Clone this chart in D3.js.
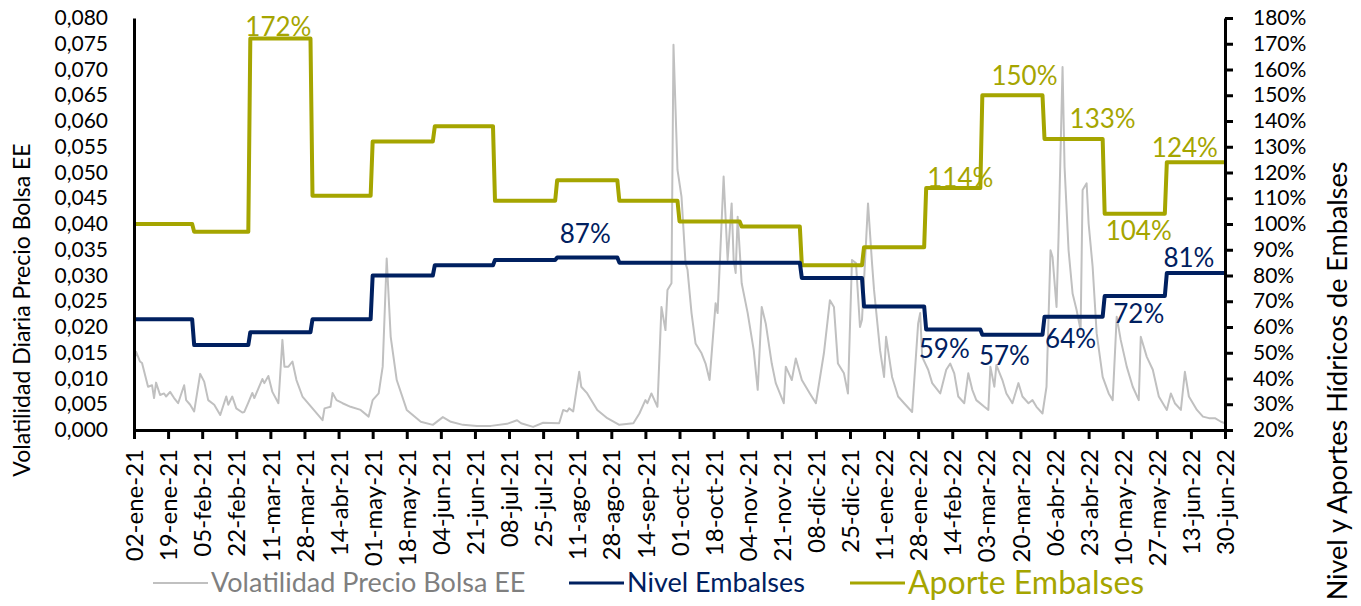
<!DOCTYPE html>
<html><head><meta charset="utf-8">
<script src="https://cdn.jsdelivr.net/npm/d3@7"></script>
<style>
body{margin:0;background:#fff}
svg{display:block}
text{font-family:Lato,"Open Sans",sans-serif}
</style>
</head><body>
<svg id="chart" width="1361" height="606"></svg>
<script>
// ---------------- DATA ----------------
const startDate = "2021-01-02";
const endDate = "2022-06-30";
const months = ["2021-01","2021-02","2021-03","2021-04","2021-05","2021-06","2021-07","2021-08","2021-09",
  "2021-10","2021-11","2021-12","2022-01","2022-02","2022-03","2022-04","2022-05","2022-06"];
// monthly reservoir level (%)
const nivelEmbalses = [63,53,58,63,80,84,86,87,85,85,85,79,68,59,57,64,72,81];
// monthly hydro inflows (% of historical mean)
const aporteEmbalses = [100,97,172,111,132,138,109,117,109,101,99,84,91,114,150,133,104,124];

// labelled points: month index + date at which the label is anchored
const nivelLabelMonth = [7,13,14,15,16,17];
const nivelLabelDate = ["2021-08-15","2022-02-10","2022-03-12","2022-04-14","2022-05-18","2022-06-12"];
const aporteLabelMonth = [2,13,14,15,16,17];
const aporteLabelDate = ["2021-03-15","2022-02-18","2022-03-22","2022-04-30","2022-05-18","2022-06-10"];

// daily volatility of spot price, read at the visible turning points (days since 02-ene-21)
const volDay = [0,1,3,4,7,9,10,11,13,15,16,18,20,22,25,26,28,30,33,35,37,40,43,46,47,49,51,54,55,57,59,60,64,65,67,69,72,74,75,77,79,81,84,89,94,95,98,99,101,104,108,113,117,119,122,124,126,128,131,136,143,149,154,158,164,171,178,186,191,193,199,204,212,214,216,217,219,222,223,226,231,236,242,249,252,255,256,258,261,263,265,266,268,269,271,273,275,276,278,280,283,285,287,290,291,294,296,298,299,300,301,303,306,309,311,313,315,318,320,324,325,328,330,333,337,340,344,347,349,351,354,356,358,360,362,363,366,368,369,372,374,375,378,381,384,388,391,392,393,396,398,402,405,407,409,411,414,416,418,420,424,426,427,429,430,433,435,438,441,443,446,448,450,453,455,457,458,460,461,463,464,466,468,470,472,473,475,476,478,480,483,486,488,490,492,495,498,501,502,505,508,511,515,517,519,522,524,526,530,533,536,539,542,544];
const volValue = [.0130,.0152,.0133,.0130,.0084,.0087,.0062,.0092,.0068,.0071,.0065,.0074,.0062,.0052,.0087,.0058,.0049,.0036,.0109,.0094,.0058,.0049,.0029,.0065,.0049,.0065,.0042,.0034,.0035,.0053,.0072,.0062,.0099,.0091,.0105,.0074,.0052,.0175,.0123,.0123,.0133,.0097,.0065,.0042,.0019,.0042,.0045,.0072,.0058,.0052,.0045,.0039,.0026,.0058,.0071,.0123,.0333,.0181,.0097,.0039,.0016,.0010,.0025,.0016,.0010,.0008,.0008,.0012,.0019,.0013,.0006,.0014,.0013,.0039,.0036,.0042,.0036,.0113,.0084,.0071,.0039,.0023,.0010,.0013,.0032,.0058,.0052,.0071,.0045,.0239,.0194,.0272,.0285,.0748,.0505,.0453,.0324,.0311,.0227,.0168,.0149,.0129,.0097,.0246,.0227,.0492,.0330,.0440,.0330,.0305,.0414,.0285,.0227,.0155,.0078,.0239,.0207,.0129,.0091,.0052,.0123,.0097,.0139,.0097,.0071,.0052,.0149,.0252,.0239,.0129,.0110,.0071,.0330,.0324,.0200,.0214,.0440,.0324,.0272,.0155,.0103,.0181,.0103,.0065,.0052,.0035,.0207,.0227,.0142,.0117,.0091,.0071,.0117,.0129,.0110,.0065,.0052,.0110,.0078,.0058,.0045,.0039,.0123,.0084,.0126,.0097,.0071,.0052,.0091,.0065,.0052,.0058,.0045,.0032,.0084,.0349,.0336,.0239,.0375,.0705,.0511,.0349,.0265,.0233,.0194,.0466,.0479,.0401,.0317,.0188,.0103,.0071,.0058,.0220,.0175,.0123,.0084,.0058,.0181,.0142,.0117,.0065,.0039,.0071,.0052,.0039,.0113,.0065,.0039,.0026,.0023,.0023,.0016,.0013];

// axis ticks
const xTickDates = ["2021-01-02","2021-01-19","2021-02-05","2021-02-22","2021-03-11","2021-03-28","2021-04-14",
  "2021-05-01","2021-05-18","2021-06-04","2021-06-21","2021-07-08","2021-07-25","2021-08-11","2021-08-28",
  "2021-09-14","2021-10-01","2021-10-18","2021-11-04","2021-11-21","2021-12-08","2021-12-25","2022-01-11",
  "2022-01-28","2022-02-14","2022-03-03","2022-03-20","2022-04-06","2022-04-23","2022-05-10","2022-05-27",
  "2022-06-13","2022-06-30"];
const monthAbbr = ["ene","feb","mar","abr","may","jun","jul","ago","sep","oct","nov","dic"];
const leftTicks = [0,0.005,0.010,0.015,0.020,0.025,0.030,0.035,0.040,0.045,0.050,0.055,0.060,0.065,0.070,0.075,0.080];
const rightTicks = [20,30,40,50,60,70,80,90,100,110,120,130,140,150,160,170,180];

// ---------------- CHART ----------------
const C_VOL = "#c0c0c0", C_NIV = "#002060", C_APO = "#a5a500";
const parse = d3.utcParse("%Y-%m-%d");
const parseM = d3.utcParse("%Y-%m");
const svg = d3.select("#chart");
const L = 134, R = 1225, T = 18, B = 430;

const x = d3.scaleUtc().domain([parse(startDate), parse(endDate)]).range([L, R]);
const yL = d3.scaleLinear().domain([0, 0.08]).range([B, T]);
const yR = d3.scaleLinear().domain([20, 180]).range([B, T]);

function stepPoints(vals) {
  const pts = [];
  const s = parse(startDate), e = parse(endDate);
  vals.forEach((v, i) => {
    let a = parseM(months[i]);
    if (a < s) a = s;
    let b = i < vals.length - 1 ? d3.utcDay.offset(parseM(months[i + 1]), -1) : e;
    pts.push([a, v], [b, v]);
  });
  return pts;
}

// gray volatility line
const volData = volDay.map((d, i) => [d3.utcDay.offset(parse(startDate), d), volValue[i]]);
svg.append("path").datum(volData)
  .attr("fill", "none").attr("stroke", C_VOL).attr("stroke-width", 2).attr("stroke-linejoin", "round")
  .attr("d", d3.line().x(d => x(d[0])).y(d => yL(d[1])));

const stepLine = d3.line().x(d => x(d[0])).y(d => yR(d[1]));
svg.append("path").datum(stepPoints(aporteEmbalses))
  .attr("fill", "none").attr("stroke", C_APO).attr("stroke-width", 4).attr("stroke-linejoin", "round")
  .attr("d", stepLine);
svg.append("path").datum(stepPoints(nivelEmbalses))
  .attr("fill", "none").attr("stroke", C_NIV).attr("stroke-width", 4).attr("stroke-linejoin", "round")
  .attr("d", stepLine);

// data labels
const aporteOffsets = [-3, -1, -10, -11, 26, -5];
aporteLabelMonth.forEach((m, i) => {
  svg.append("text").attr("x", x(parse(aporteLabelDate[i]))).attr("y", yR(aporteEmbalses[m]) + aporteOffsets[i])
    .attr("text-anchor", "middle").attr("fill", C_APO).attr("font-size", 26)
    .text(aporteEmbalses[m] + "%");
});
const nivelOffsets = [-14, 28, 30, 31, 27, -6];
nivelLabelMonth.forEach((m, i) => {
  svg.append("text").attr("x", x(parse(nivelLabelDate[i]))).attr("y", yR(nivelEmbalses[m]) + nivelOffsets[i])
    .attr("text-anchor", "middle").attr("fill", C_NIV).attr("font-size", 26)
    .text(nivelEmbalses[m] + "%");
});

// axes
const fmtES = dt => d3.utcFormat("%d")(dt) + "-" + monthAbbr[dt.getUTCMonth()] + "-" + d3.utcFormat("%y")(dt);
const gx = svg.append("g").attr("transform", `translate(0,${B})`)
  .call(d3.axisBottom(x).tickValues(xTickDates.map(parse)).tickSize(9).tickSizeOuter(0).tickFormat(fmtES));
gx.selectAll(".tick text").attr("transform", "rotate(-90)").attr("text-anchor", "end")
  .attr("x", -19).attr("y", 0).attr("dy", "0.36em").attr("font-size", 24).attr("fill", "#000");

const gl = svg.append("g").attr("transform", `translate(${L},0)`)
  .call(d3.axisLeft(yL).tickValues(leftTicks).tickSize(0).tickPadding(26)
    .tickFormat(d => d3.format(".3f")(d).replace(".", ",")));
gl.selectAll(".tick text").attr("font-size", 21).attr("fill", "#000");

const gr = svg.append("g").attr("transform", `translate(${R},0)`)
  .call(d3.axisRight(yR).tickValues(rightTicks).tickSize(8).tickSizeOuter(0).tickPadding(20).tickFormat(d => d + "%"));
gr.selectAll(".tick text").attr("font-size", 21).attr("fill", "#000");

[gx, gl, gr].forEach(g => {
  g.select(".domain").attr("stroke", "#000").attr("stroke-width", 3);
  g.selectAll(".tick line").attr("stroke", "#000").attr("stroke-width", 3);
});

// axis titles
svg.append("text").attr("transform", `translate(22,310) rotate(-90)`).attr("text-anchor", "middle")
  .attr("dy", "0.35em").attr("font-size", 23).attr("fill", "#000").text("Volatilidad Diaria Precio Bolsa EE");
svg.append("text").attr("transform", `translate(1338,381) rotate(-90)`).attr("text-anchor", "middle")
  .attr("dy", "0.35em").attr("font-size", 27).attr("fill", "#000").text("Nivel y Aportes Hídricos de Embalses");

// legend
const legend = [
  {name: "Volatilidad Precio Bolsa EE", color: C_VOL, text: "#7f7f7f", w: 2, x: 153, size: 27},
  {name: "Nivel Embalses", color: C_NIV, text: C_NIV, w: 3, x: 569, size: 27},
  {name: "Aporte Embalses", color: C_APO, text: C_APO, w: 3, x: 850, size: 32}
];
legend.forEach(l => {
  svg.append("line").attr("x1", l.x).attr("x2", l.x + 55).attr("y1", 583).attr("y2", 583)
    .attr("stroke", l.color).attr("stroke-width", l.w);
  svg.append("text").attr("x", l.x + 58).attr("y", 583).attr("dy", "0.35em")
    .attr("font-size", l.size).attr("fill", l.text).text(l.name);
});
</script>
</body></html>
